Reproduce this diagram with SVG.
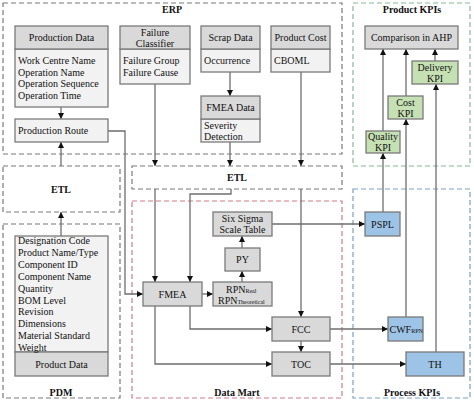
<svg xmlns="http://www.w3.org/2000/svg" width="474" height="404" viewBox="0 0 474 404">
<defs>
<marker id="ah" markerUnits="userSpaceOnUse" markerWidth="7" markerHeight="7" refX="6" refY="3" orient="auto">
<path d="M0,0 L6,3 L0,6 z" fill="#111"/>
</marker>
<style>
text{font-family:"Liberation Serif","Times New Roman",serif;font-size:10px;fill:#111}
.b{font-weight:bold}
.c{text-anchor:middle}
.sub{font-size:6px}
.grp{fill:none;stroke:#7a7a7a;stroke-width:1.2;stroke-dasharray:5,3}
.red{stroke:#d07a8a}
.grn{stroke:#8ab89a}
.blu{stroke:#7f9fbf}
.hd{fill:#d9d9d9;stroke:#7a7a7a;stroke-width:1.3}
.bd{fill:#f2f2f2;stroke:#7a7a7a;stroke-width:1.3}
.g{fill:#c5e0b3;stroke:#7a7a7a;stroke-width:1.3}
.bl{fill:#9dc3e6;stroke:#7a7a7a;stroke-width:1.3}
.ln{fill:none;stroke:#6e6e6e;stroke-width:1.3}
</style>
</defs>
<rect width="474" height="404" fill="#fff"/>

<g id="groups">
<rect class="grp" x="3" y="3" width="339" height="151"/>
<text class="b c" x="172" y="13">ERP</text>
<rect class="grp" x="3" y="166" width="117" height="46"/>
<text class="b c" x="61" y="193">ETL</text>
<rect class="grp" x="3" y="224" width="117" height="174"/>
<text class="b c" x="61" y="396">PDM</text>
<rect class="grp" x="132" y="166" width="210" height="23"/>
<text class="b c" x="237" y="181">ETL</text>
<rect class="grp red" x="132" y="201" width="210" height="197"/>
<text class="b c" x="237" y="396">Data Mart</text>
<rect class="grp grn" x="353" y="3" width="117" height="163"/>
<text class="b c" x="412" y="13">Product KPIs</text>
<rect class="grp blu" x="353" y="189" width="117" height="209"/>
<text class="b c" x="412" y="396">Process KPIs</text>
</g>

<g id="connectors">
<path class="ln" marker-end="url(#ah)" d="M61,107 V119"/>
<path class="ln" marker-end="url(#ah)" d="M61,166 V142"/>
<path class="ln" marker-end="url(#ah)" d="M61,236 V212"/>
<path class="ln" marker-end="url(#ah)" d="M108,131 H125 V294 H143"/>
<path class="ln" marker-end="url(#ah)" d="M155,84 V166"/>
<path class="ln" marker-end="url(#ah)" d="M230,72 V96"/>
<path class="ln" marker-end="url(#ah)" d="M230,142 V166"/>
<path class="ln" marker-end="url(#ah)" d="M301,72 V166"/>
<path class="ln" marker-end="url(#ah)" d="M155,189 V282"/>
<path class="ln" marker-end="url(#ah)" d="M231,189 V194 H190 V282"/>
<path class="ln" marker-end="url(#ah)" d="M301,189 V317"/>
<path class="ln" marker-end="url(#ah)" d="M202,294 H213"/>
<path class="ln" marker-end="url(#ah)" d="M242,282 V271"/>
<path class="ln" marker-end="url(#ah)" d="M242,248 V236"/>
<path class="ln" marker-end="url(#ah)" d="M272,224 H365"/>
<path class="ln" marker-end="url(#ah)" d="M190,306 V329 H272"/>
<path class="ln" marker-end="url(#ah)" d="M155,306 V364 H272"/>
<path class="ln" marker-end="url(#ah)" d="M301,341 V352"/>
<path class="ln" marker-end="url(#ah)" d="M330,329 H388"/>
<path class="ln" marker-end="url(#ah)" d="M330,364 H406"/>
<path class="ln" marker-end="url(#ah)" d="M383,212 V153"/>
<path class="ln" marker-end="url(#ah)" d="M406,317 V119"/>
<path class="ln" marker-end="url(#ah)" d="M436,352 V84"/>
<path class="ln" marker-end="url(#ah)" d="M383,131 V49"/>
<path class="ln" marker-end="url(#ah)" d="M406,96 V49"/>
<path class="ln" marker-end="url(#ah)" d="M435,61 V49"/>
</g>

<g id="production-data">
<rect class="bd" x="15" y="49" width="93" height="58"/>
<rect class="hd" x="15" y="26" width="93" height="23"/>
<text class="c" x="61.5" y="41">Production Data</text>
<text x="18" y="64">Work Centre Name</text>
<text x="18" y="75.5">Operation Name</text>
<text x="18" y="87">Operation Sequence</text>
<text x="18" y="98.5">Operation Time</text>
</g>

<g id="production-route">
<rect class="bd" x="15" y="119" width="93" height="23"/>
<text x="18" y="134">Production Route</text>
</g>

<g id="failure-classifier">
<rect class="bd" x="120" y="49" width="70" height="35"/>
<rect class="hd" x="120" y="26" width="70" height="23"/>
<text class="c" x="155" y="35.5">Failure</text>
<text class="c" x="155" y="46.5">Classifier</text>
<text x="123" y="64">Failure Group</text>
<text x="123" y="75.5">Failure Cause</text>
</g>

<g id="scrap-data">
<rect class="bd" x="201" y="49" width="59" height="23"/>
<rect class="hd" x="201" y="26" width="59" height="23"/>
<text class="c" x="230.5" y="41">Scrap Data</text>
<text x="204" y="64">Occurrence</text>
</g>

<g id="fmea-data">
<rect class="bd" x="201" y="119" width="59" height="23"/>
<rect class="hd" x="201" y="96" width="59" height="23"/>
<text class="c" x="230.5" y="111">FMEA Data</text>
<text x="204" y="128.5">Severity</text>
<text x="204" y="140">Detection</text>
</g>

<g id="product-cost">
<rect class="bd" x="271" y="49" width="59" height="23"/>
<rect class="hd" x="271" y="26" width="59" height="23"/>
<text class="c" x="300.5" y="41">Product Cost</text>
<text x="274" y="64">CBOML</text>
</g>

<g id="product-data">
<rect class="bd" x="15" y="236" width="93" height="116"/>
<rect class="hd" x="15" y="352" width="93" height="24"/>
<text x="18" y="244">Designation Code</text>
<text x="18" y="255.9">Product Name/Type</text>
<text x="18" y="267.8">Component ID</text>
<text x="18" y="279.7">Component Name</text>
<text x="18" y="291.6">Quantity</text>
<text x="18" y="303.5">BOM Level</text>
<text x="18" y="315.4">Revision</text>
<text x="18" y="327.3">Dimensions</text>
<text x="18" y="339.2">Material Standard</text>
<text x="18" y="351">Weight</text>
<text class="c" x="61.5" y="367.5">Product Data</text>
</g>

<g id="fmea">
<rect class="hd" x="143" y="282" width="59" height="24"/>
<text class="c" x="172.5" y="297.5">FMEA</text>
</g>

<g id="six-sigma">
<rect class="hd" x="213" y="212" width="59" height="24"/>
<text class="c" x="242.5" y="222">Six Sigma</text>
<text class="c" x="242.5" y="233">Scale Table</text>
</g>

<g id="py">
<rect class="hd" x="225" y="248" width="35" height="23"/>
<text class="c" x="242.5" y="263">PY</text>
</g>

<g id="rpn">
<rect class="hd" x="213" y="282" width="59" height="24"/>
<text x="226" y="293">RPN<tspan class="sub">Real</tspan></text>
<text x="218" y="304">RPN<tspan class="sub">Theoretical</tspan></text>
</g>

<g id="fcc">
<rect class="hd" x="272" y="317" width="58" height="24"/>
<text class="c" x="301" y="332.5">FCC</text>
</g>

<g id="toc">
<rect class="hd" x="272" y="352" width="58" height="24"/>
<text class="c" x="301" y="367.5">TOC</text>
</g>

<g id="ahp">
<rect class="hd" x="365" y="26" width="93" height="23"/>
<text class="c" x="411.5" y="41">Comparison in AHP</text>
</g>

<g id="delivery-kpi">
<rect class="g" x="412" y="61" width="46" height="23"/>
<text class="c" x="435" y="70.5">Delivery</text>
<text class="c" x="435" y="81.5">KPI</text>
</g>

<g id="cost-kpi">
<rect class="g" x="388" y="96" width="35" height="23"/>
<text class="c" x="405.5" y="105.5">Cost</text>
<text class="c" x="405.5" y="116.5">KPI</text>
</g>

<g id="quality-kpi">
<rect class="g" x="366" y="131" width="34" height="22"/>
<text class="c" x="383" y="140">Quality</text>
<text class="c" x="383" y="151">KPI</text>
</g>

<g id="pspl">
<rect class="bl" x="365" y="212" width="35" height="24"/>
<text class="c" x="382.5" y="227.5">PSPL</text>
</g>

<g id="cwf">
<rect class="bl" x="388" y="317" width="35" height="24"/>
<text x="389.5" y="332.5">CWF<tspan class="sub">RPN</tspan></text>
</g>

<g id="th">
<rect class="bl" x="406" y="352" width="58" height="24"/>
<text class="c" x="435" y="367.5">TH</text>
</g>
</svg>
